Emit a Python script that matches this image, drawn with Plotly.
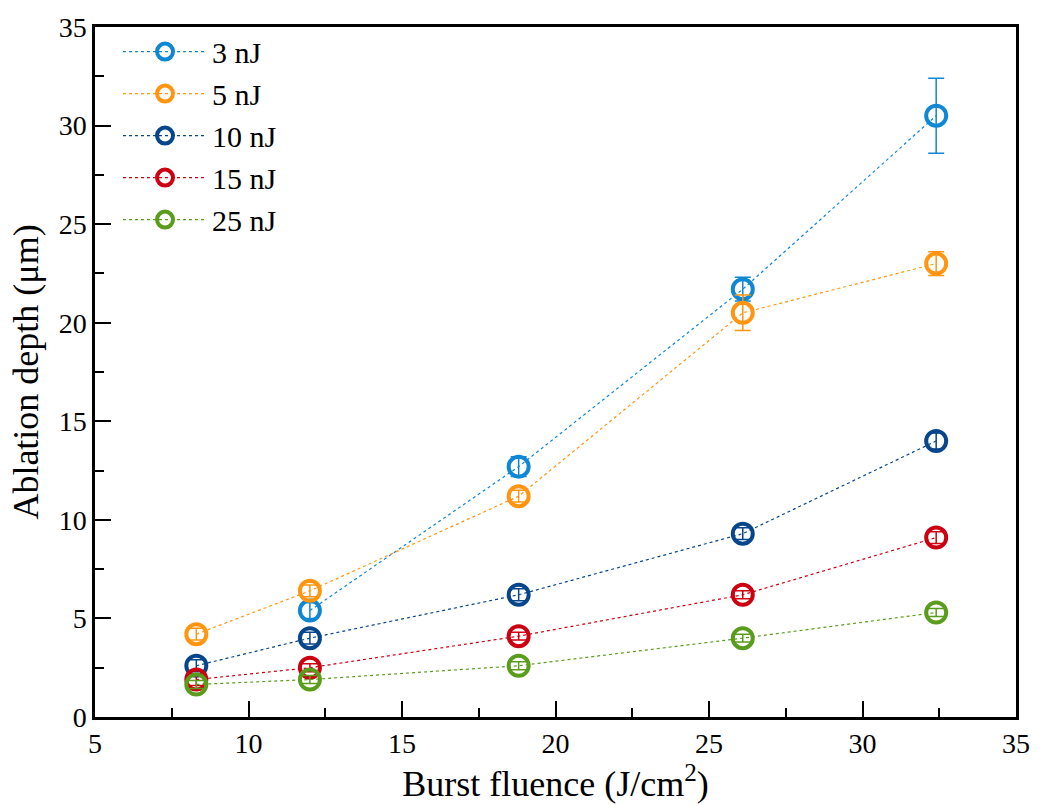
import plotly.graph_objects as go

# Data
fluence = [8.3, 12.0, 18.8, 26.1, 32.4]
labels = ["3 nJ", "5 nJ", "10 nJ", "15 nJ", "25 nJ"]
colors = ["#0f87d3", "#ff9510", "#07468a", "#cc0010", "#5a9c1c"]

x_3nJ = [12.0, 18.8, 26.1, 32.4]
y_3nJ = [5.4, 12.7, 21.7, 30.5]
e_3nJ = [0.4, 0.5, 0.6, 1.9]

y_5nJ = [4.2, 6.4, 11.2, 20.5, 23.0]
e_5nJ = [0.3, 0.3, 0.3, 0.9, 0.6]

y_10nJ = [2.6, 4.0, 6.2, 9.3, 14.0]
e_10nJ = [0.3, 0.3, 0.3, 0.3, 0.4]

y_15nJ = [1.9, 2.5, 4.1, 6.2, 9.1]
e_15nJ = [0.3, 0.2, 0.2, 0.2, 0.3]

y_25nJ = [1.65, 1.9, 2.6, 4.0, 5.3]
e_25nJ = [0.2, 0.2, 0.2, 0.2, 0.2]

series = [
    (x_3nJ, y_3nJ, e_3nJ),
    (fluence, y_5nJ, e_5nJ),
    (fluence, y_10nJ, e_10nJ),
    (fluence, y_15nJ, e_15nJ),
    (fluence, y_25nJ, e_25nJ),
]

FONT = "Liberation Serif"

fig = go.Figure()
for i, ((xs, ys, es), name, c) in enumerate(zip(series, labels, colors)):
    fig.add_trace(go.Scatter(
        x=xs, y=ys, name=name, mode="lines+markers",
        legendgroup=f"g{i}",
        line=dict(color=c, width=1.2, dash="dot"),
        marker=dict(symbol="circle-open", size=20, color=c, line=dict(width=4, color=c)),
        error_y=dict(type="data", array=es, visible=True, color=c, thickness=1.5, width=8),
    ))

def axis_common(minor_dtick):
    return dict(
        showgrid=False, zeroline=False,
        showline=True, linecolor="black", linewidth=2.5, mirror=True,
        ticks="inside", ticklen=16, tickwidth=2, tickcolor="black",
        tickfont=dict(family=FONT, size=28, color="black"),
        minor=dict(ticks="inside", ticklen=9, tickwidth=2, tickcolor="black", dtick=minor_dtick),
    )

fig.update_xaxes(range=[5, 35], dtick=5, tick0=5,
                 title=dict(text="Burst fluence (J/cm<sup>2</sup>)", font=dict(family=FONT, size=36, color="black"), standoff=5),
                 **axis_common(2.5))
fig.update_yaxes(range=[0, 35], dtick=5, tick0=0,
                 title=dict(text="Ablation depth (μm)", font=dict(family=FONT, size=36, color="black"), standoff=10),
                 **axis_common(2.5))

fig.update_layout(
    width=1042, height=806,
    margin=dict(l=95, r=22, t=23, b=89),
    paper_bgcolor="white", plot_bgcolor="white",
    font=dict(family=FONT, color="black"),
    legend=dict(x=0.025, y=1.002, xanchor="left", yanchor="top",
                font=dict(family=FONT, size=30, color="black"),
                tracegroupgap=0, bgcolor="rgba(0,0,0,0)", itemwidth=84),
)

fig.write_html("out.html")
